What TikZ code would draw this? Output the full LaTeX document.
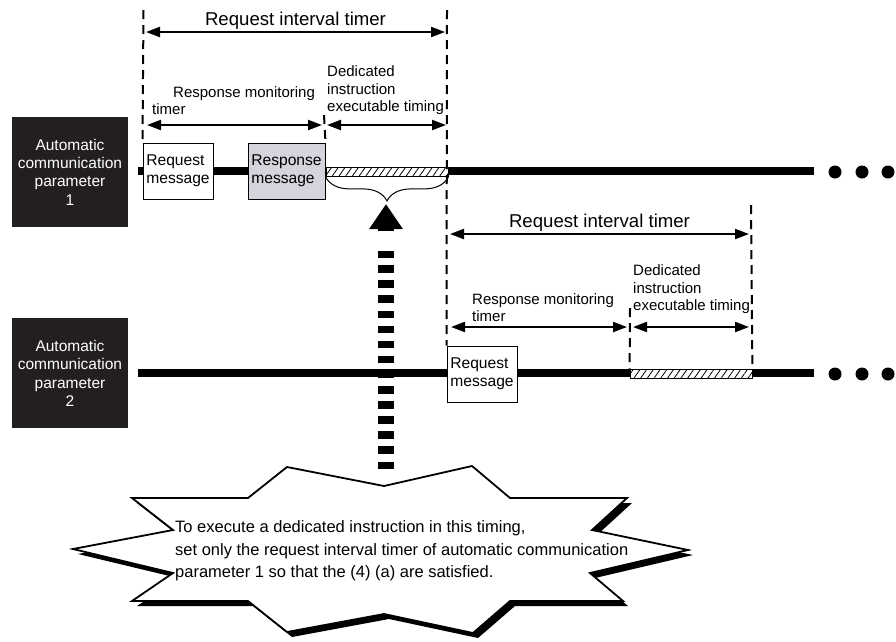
\documentclass[tikz,border=0pt]{standalone}
\usepackage{fontspec}
\setmainfont{Liberation Sans}
\usepackage{tikz}
\usetikzlibrary{arrows.meta, positioning, decorations.pathreplacing, patterns.meta}
\usepackage{xcolor}

\definecolor{paramblack}{HTML}{231F20}
\definecolor{respgray}{HTML}{D3D4DC}

% outline of the note callout
\newcommand{\calloutstar}{(287,467) -- (384,486) -- (472,466) -- (510,498) -- (627,498) -- (592,530) -- (688,550) -- (590,573) -- (623,601) -- (510,601) -- (473,633) -- (384,614) -- (287,632) -- (248,601) -- (132,601) -- (173,573) -- (73,549) -- (173,530) -- (132,498) -- (248,498) -- cycle}

\begin{document}
\begin{tikzpicture}[x=1pt, y=-1pt, >={Triangle[length=14pt, width=10pt]}]
\useasboundingbox (0,0) rectangle (896,641);

% --- Style Definitions ---
% Parameter labels (black)
\tikzstyle{param_box}=[fill=paramblack, text=white, minimum width=116pt, minimum height=110pt, inner sep=0pt, align=center, font=\fontsize{15.5}{18.3}\selectfont]
% Message boxes
\tikzstyle{msg_box}=[draw, line width=1pt, fill=white, minimum width=70pt, minimum height=56pt, inner sep=0pt, align=left, font=\fontsize{15.6}{18}\selectfont]
\tikzstyle{resp_box}=[msg_box, fill=respgray, minimum width=77pt]
% Executable timing strip
\tikzstyle{hatch_box}=[draw, line width=0.8pt, preaction={fill=white}, pattern={Lines[angle=55, distance=5.5pt, line width=0.8pt]}, minimum height=9pt, inner sep=0pt]
\tikzstyle{dot}=[circle, fill=black, minimum size=13pt, inner sep=0pt]

% Lines and arrows
\tikzstyle{timeline}=[line width=8pt]
\tikzstyle{guide}=[line width=2pt, dash pattern=on 9pt off 6pt]
\tikzstyle{span_arrow}=[<->, line width=2.2pt]
\tikzstyle{brace_line}=[line width=1pt, decorate, decoration={brace, amplitude=24pt}]
\tikzstyle{up_shaft}=[line width=16pt, dash pattern=on 7.5pt off 7.6pt]
\tikzstyle{up_head}=[line width=16pt, -{Triangle[length=25pt, width=32pt]}]
\tikzstyle{callout}=[fill=white, draw=black, line width=1.8pt, line join=miter]

% Texts
\tikzstyle{timer_label}=[font=\fontsize{18.6}{22}\selectfont, inner sep=2pt]
\tikzstyle{small_label}=[font=\fontsize{15}{17.5}\selectfont, align=left, anchor=south west, inner sep=0pt]
\tikzstyle{callout_text}=[font=\fontsize{16.5}{22.5}\selectfont, align=left, anchor=west, inner sep=0pt]


% --- Timelines ---
\coordinate (TL1_start) at (138,171);
\coordinate (TL1_end) at (814,171);
\coordinate (TL2_start) at (138,373);
\coordinate (TL2_end) at (814,373);
\draw[timeline] (TL1_start) -- (TL1_end);
\draw[timeline] (TL2_start) -- (TL2_end);

\node[dot] (Dots1a) at (835,172) {};
\node[dot] (Dots1b) at (862,172) {};
\node[dot] (Dots1c) at (888,172) {};
\node[dot] (Dots2a) at (835,374) {};
\node[dot] (Dots2b) at (862,374) {};
\node[dot] (Dots2c) at (888,374) {};

% --- Parameter labels ---
\node[param_box] (Param1) at (70,172) {Automatic\\communication\\parameter\\1};
\node[param_box, below=91pt of Param1] (Param2) {Automatic\\communication\\parameter\\2};

% --- Messages and executable timing ---
\node[msg_box] (Req1) at (178,171) {Request\\message};
\node[resp_box, right=34pt of Req1] (Resp1) {Response\\message};
\node[msg_box] (Req2) at (482,374) {Request\\message};

\node[hatch_box, minimum width=122pt] (Exec1) at (387,172) {};
\node[hatch_box, minimum width=122pt] (Exec2) at (691,373.5) {};

\draw[brace_line] (Exec1.south east) -- (Exec1.south west);

% --- Dashed guides ---
\coordinate (G1_top) at (143.5,10);
\coordinate (G2_top) at (447,10);
\coordinate (G3_top) at (324,115);
\coordinate (G4_top) at (751,205);
\coordinate (G5_top) at (630,308);
\draw[guide] (G1_top) -- (Req1.north west);
\draw[guide] (G2_top) -- (Req2.north west);
\draw[guide] (G3_top) -- (Resp1.north east);
\draw[guide] (G4_top) -- (Exec2.north east);
\draw[guide] (G5_top) -- (Exec2.north west);

% --- Timers of parameter 1 ---
\coordinate (RIT1_l) at (146,32);
\coordinate (RIT1_r) at (445,32);
\coordinate (RMT1_l) at (147,125);
\coordinate (RMT1_r) at (322,125);
\coordinate (DIT1_l) at (327,125);
\coordinate (DIT1_r) at (446,125);
\draw[span_arrow] (RIT1_l) -- node[timer_label, above] {Request interval timer} (RIT1_r);
\draw[span_arrow] (RMT1_l) -- (RMT1_r);
\draw[span_arrow] (DIT1_l) -- (DIT1_r);
\node[small_label] (RMT1_text) at (152,115) {\hspace*{21pt}Response monitoring\\timer};
\node[small_label] (DIT1_text) at (327,115) {Dedicated\\instruction\\executable timing};

% --- Timers of parameter 2 ---
\coordinate (RIT2_l) at (450,234);
\coordinate (RIT2_r) at (749,234);
\coordinate (RMT2_l) at (451,327);
\coordinate (RMT2_r) at (627,327);
\coordinate (DIT2_l) at (633,327);
\coordinate (DIT2_r) at (749,327);
\draw[span_arrow] (RIT2_l) -- node[timer_label, above] {Request interval timer} (RIT2_r);
\draw[span_arrow] (RMT2_l) -- (RMT2_r);
\draw[span_arrow] (DIT2_l) -- (DIT2_r);
\node[small_label] (RMT2_text) at (472,322) {Response monitoring\\timer};
\node[small_label] (DIT2_text) at (633,314) {Dedicated\\instruction\\executable timing};

% --- Pointer to the executable timing ---
\coordinate (Up_tail) at (386,469);
\coordinate (Up_shaft_top) at (386,251);
\coordinate (Up_head_base) at (386,231);
\coordinate (Up_tip) at (386,204);
\draw[up_shaft] (Up_tail) -- (Up_shaft_top);
\draw[up_head] (Up_head_base) -- (Up_tip);

% --- Note ---
\fill[shift={(5,5)}] \calloutstar;
\draw[callout] \calloutstar;
\node[callout_text] (Note) at (175,551) {To execute a dedicated instruction in this timing,\\set only the request interval timer of automatic communication\\parameter 1 so that the (4) (a) are satisfied.};

\end{tikzpicture}
\end{document}
